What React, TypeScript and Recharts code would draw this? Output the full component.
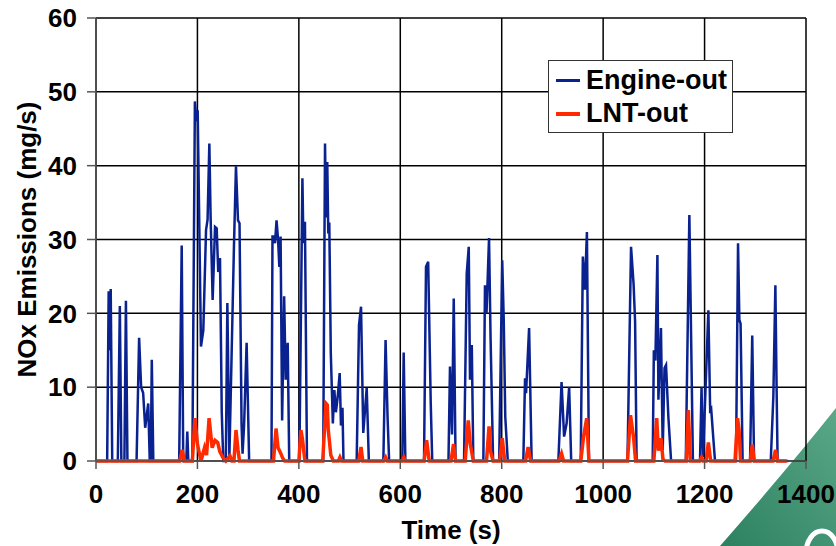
import React from "react";
import { CartesianGrid, Line, LineChart, XAxis, YAxis } from "recharts";

// [time (s), NOx (mg/s)]
const engineOut: [number, number][] = [
  [0, 0], [22, 0], [25, 23], [27, 15], [29, 23.3], [32, 0],
  [43, 0], [47, 21], [50, 0],
  [56, 0], [59, 21.7], [62, 0],
  [80, 0], [85, 16.7], [89, 10], [93, 9.2], [97, 4.5], [103, 7.8], [106, 0], [108, 0], [110, 13.7], [113, 0],
  [164, 0], [169, 29.2], [172, 0],
  [178, 0], [180, 4], [182, 0],
  [190, 0], [195, 48.7], [198, 46], [200.5, 47.5], [207, 15.5], [211.6, 17.7], [217, 31.3], [220, 32.7], [223.5, 43],
  [226, 33], [230, 21.8], [234.7, 31.7], [238, 31.5], [241, 25.6], [244.5, 27.5], [248, 6.5], [251, 0], [256, 0],
  [259, 21.4], [263, 0.5], [267.6, 15], [272, 29], [276, 39.9], [280, 32.6], [283, 32.2], [287, 5], [289, 1],
  [292, 4.8], [297, 16], [302, 0],
  [346, 0], [348, 30.4], [351, 30.4], [353, 29.5], [356, 32.6], [359, 30], [361.5, 26.3], [364, 30.4], [367, 5.5],
  [371, 22.3], [374, 11], [378, 16], [381, 0],
  [401, 0], [407, 38.3], [409, 29.5], [412, 32.4], [416, 0],
  [448, 0], [451.6, 43], [453.5, 33], [456, 40.5], [458, 30.8], [460, 32.3], [463, 14.6], [467, 5.1], [470, 9.6],
  [473, 6.6], [476.6, 8.7], [480.5, 11.9], [483, 4.8], [486, 7.2], [488, 0],
  [514, 0], [518.6, 18.4], [522.6, 20.9], [527, 3.8], [533.8, 9.9], [538, 0],
  [566.6, 0], [571, 16.4], [575, 5.8], [578, 0],
  [604, 0], [606.7, 14.7], [610, 0],
  [646.8, 0], [650.7, 26.3], [655, 27], [660, 8], [663, 0],
  [695, 0], [698, 12.8], [702, 3.6], [705.4, 22], [709, 0],
  [725.7, 0], [731, 25.4], [735, 29], [737.5, 11], [741, 15.7], [744, 0],
  [763.8, 0], [767, 23.8], [770, 20], [775, 30.2], [778, 16.8], [783, 0],
  [795, 0], [801, 27.2], [804, 19.1], [807, 6], [812, 0],
  [842.6, 0], [846, 11.2], [848, 9.2], [854, 18], [859, 0],
  [911.7, 0], [918, 10.7], [923, 3.3], [928, 5.1], [933, 10], [937, 0],
  [955.8, 0], [960, 27.7], [964, 23.2], [968, 31], [972, 0],
  [1048, 0], [1055, 29], [1060, 24], [1063, 18.9], [1066, 0],
  [1097.7, 0], [1100, 15], [1103, 13.6], [1107, 27.9], [1109, 8.3], [1114, 18], [1117.5, 1.5], [1121, 12.6],
  [1124, 13], [1128.6, 6], [1134, 0],
  [1163, 0], [1170, 33.3], [1177, 0],
  [1191, 0], [1194, 10], [1197, 0.5], [1207.5, 20.4], [1211, 6.9], [1213, 7.1], [1217, 3.3], [1220.6, 0],
  [1262, 0], [1266, 29.5], [1268.6, 19.1], [1271, 18.6], [1275, 0],
  [1289.7, 0], [1294, 17], [1297.6, 0],
  [1330.5, 0], [1335.6, 8.7], [1339.6, 23.8], [1342, 10], [1344, 0], [1365, 0],
];

const lntOut: [number, number][] = [
  [0, 0], [165, 0], [170, 1.5], [174, 0],
  [190, 0], [195, 5.8], [200, 2.3], [207, 0], [214, 1.8], [218, 0.8], [223, 5.8], [229, 1.8], [234.7, 2.8],
  [240, 2.5], [244, 1.3], [250, 0.5], [256, 0], [264, 0.7], [268, 0], [272, 0], [276, 4.2], [280, 1.5], [283, 0],
  [350, 0], [355, 4.4], [359, 1.8], [364, 1.1], [368, 0.4], [372, 0],
  [400, 0], [404, 4.2], [407, 3], [412, 0],
  [447, 0], [453.5, 7.8], [456, 7.6], [458, 4.2], [463, 0.8], [468, 0], [478, 0], [481, 0.5], [484, 0],
  [518, 0], [522.6, 1.9], [526, 0],
  [567, 0], [571, 0.5], [574, 0],
  [604, 0], [607, 0.5], [610, 0],
  [647, 0], [652, 2.8], [657, 0],
  [700, 0], [705, 2.3], [709, 0],
  [728, 0], [734, 5.5], [738, 2.3], [744, 0],
  [770, 0], [775, 4.7], [778, 1.3], [783, 0],
  [796, 0], [801, 3.1], [806, 0],
  [847, 0], [852, 1.9], [857, 0],
  [913, 0], [918, 1], [922, 0],
  [956, 0], [961, 3.1], [967.6, 5.8], [972, 0],
  [1048, 0], [1054, 6.2], [1060, 3.2], [1064, 0],
  [1100, 0], [1105.6, 5.8], [1109, 1.4], [1114, 3.1], [1118, 0.2], [1122, 0],
  [1164, 0], [1168, 6.9], [1172, 0],
  [1190, 0], [1194, 0.5], [1197, 0], [1203, 0], [1207.5, 2.5], [1212, 0],
  [1260, 0], [1265, 5.8], [1268, 4.2], [1271, 0],
  [1290, 0], [1294, 2.2], [1298, 0],
  [1335, 0], [1340, 1.5], [1344, 0], [1362, 0],
];

const xTicks = [0, 200, 400, 600, 800, 1000, 1200, 1400];
const yTicks = [0, 10, 20, 30, 40, 50, 60];

const BLUE = "#0a2190";
const RED = "#ff2a00";
const font = "'Liberation Sans', Arial, sans-serif";
const textStyle = { fill: "#000", fontSize: 26, fontWeight: 700, fontFamily: font };

const toRows = (pts: [number, number][]) => pts.map(([t, v]) => ({ t, v }));

const legendItems = [
  { name: "Engine-out", color: BLUE, width: 2.5 },
  { name: "LNT-out", color: RED, width: 4 },
];

function LegendBox() {
  return (
    <div
      style={{
        position: "absolute",
        left: 548,
        top: 60,
        border: "1.5px solid #333",
        background: "#fff",
        width: 185,
        height: 73,
        boxSizing: "border-box",
        padding: "3px 0 0 7px",
        fontFamily: font,
        fontWeight: 700,
        fontSize: 27,
        color: "#000",
      }}
    >
      {legendItems.map((it) => (
        <div key={it.name} style={{ display: "flex", alignItems: "center", height: 33 }}>
          <div style={{ width: 24, height: it.width, background: it.color, marginRight: 6 }} />
          <span>{it.name}</span>
        </div>
      ))}
    </div>
  );
}

export default function App() {
  return (
    <div style={{ position: "absolute", left: 0, top: 0, width: 836, height: 546, background: "#fff", overflow: "hidden" }}>
      <svg width={836} height={546} style={{ position: "absolute", left: 0, top: 0 }}>
        <defs>
          <linearGradient id="logoFill" x1="1" y1="0" x2="0" y2="1">
            <stop offset="0%" stopColor="#5aa888" />
            <stop offset="100%" stopColor="#2c8060" />
          </linearGradient>
        </defs>
        <path d="M 836 408 Q 785 472 720 546 L 836 546 Z" fill="url(#logoFill)" />
        <ellipse cx={822} cy={553} rx={16} ry={22} fill="none" stroke="#fff" strokeWidth={5} />
      </svg>
      <div style={{ position: "absolute", left: 0, top: 0 }}>
        <LineChart width={836} height={546} margin={{ top: 18, right: 30, left: 0, bottom: 0 }}>
          <CartesianGrid stroke="#000" strokeWidth={1.5} />
          <XAxis
            type="number"
            dataKey="t"
            domain={[0, 1400]}
            ticks={xTicks}
            allowDataOverflow
            height={85}
            stroke="#555"
            strokeWidth={1.5}
            tickSize={8}
            tickMargin={16}
            tick={textStyle}
            label={{ value: "Time (s)", position: "insideBottom", offset: 7, style: textStyle }}
          />
          <YAxis
            type="number"
            domain={[0, 60]}
            ticks={yTicks}
            width={96}
            stroke="#555"
            strokeWidth={1.5}
            tickSize={9}
            tickMargin={10}
            tick={textStyle}
            label={{
              value: "NOx Emissions (mg/s)",
              angle: -90,
              position: "center",
              dx: -21,
              style: { ...textStyle, textAnchor: "middle" },
            }}
          />
          <Line
            data={toRows(engineOut)}
            dataKey="v"
            name="Engine-out"
            type="linear"
            stroke={BLUE}
            strokeWidth={2.5}
            dot={false}
            isAnimationActive={false}
          />
          <Line
            data={toRows(lntOut)}
            dataKey="v"
            name="LNT-out"
            type="linear"
            stroke={RED}
            strokeWidth={3.5}
            dot={false}
            isAnimationActive={false}
          />
        </LineChart>
      </div>
      <LegendBox />
    </div>
  );
}
